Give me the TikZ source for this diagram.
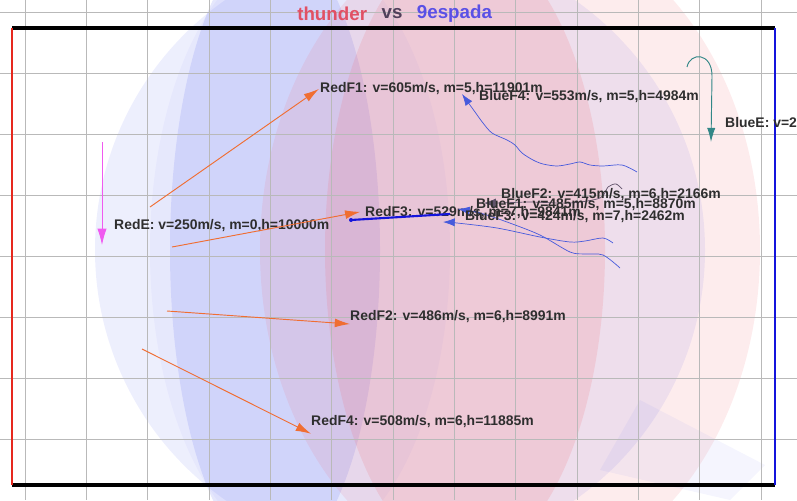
\documentclass[tikz,border=0pt]{standalone}
\usepackage{fontspec}
\setmainfont{Liberation Sans}
\usetikzlibrary{arrows.meta, positioning}

\definecolor{redarr}{RGB}{240,110,50}
\definecolor{pinkarr}{RGB}{240,90,240}
\definecolor{tealarr}{RGB}{50,135,135}
\definecolor{bluetrail}{RGB}{70,90,220}
\definecolor{redside}{RGB}{230,40,30}
\definecolor{blueside}{RGB}{20,20,220}
\definecolor{thundercol}{RGB}{225,80,100}
\definecolor{vscol}{RGB}{80,64,90}
\definecolor{espadacol}{RGB}{90,80,230}
\definecolor{blobblue}{RGB}{110,120,240}
\definecolor{blobred}{RGB}{240,100,110}

\begin{document}
\begin{tikzpicture}[
    x=0.03cm, y=-0.03cm,
    lbl/.style={anchor=west, inner sep=0pt, text=black!82, font=\bfseries\fontsize{11.9}{13}\selectfont},
    title/.style={inner sep=0pt, font=\bfseries\fontsize{16}{18}\selectfont},
    arr/.style={-{Latex[length=13pt, width=7.5pt]}, line width=0.8pt, color=redarr},
    trail/.style={line width=0.6pt, color=bluetrail},
    gridline/.style={draw=gray!55, line width=0.7pt}
]
    \useasboundingbox (0,0) rectangle (797,500);

    % Coverage blobs
    \fill[blobblue, fill opacity=0.12] (400,250) circle [radius=305];
    \fill[blobblue, fill opacity=0.18] (275,250) ellipse [x radius=105, y radius=310];
    \fill[blobblue, fill opacity=0.06] (300,250) ellipse [x radius=150, y radius=300];
    \fill[blobred, fill opacity=0.12] (510,250) ellipse [x radius=250, y radius=330];
    \fill[blobred, fill opacity=0.16] (465,250) ellipse [x radius=140, y radius=310];
    \fill[blobblue, fill opacity=0.07] (640,400) -- (765,465) -- (730,500) -- (600,470) -- cycle;

    % Grid
    \foreach \i in {0,...,12}
        \draw[gridline] ({25+61.33*\i},0) -- ({25+61.33*\i},500);
    \foreach \j in {0,...,7}
        \draw[gridline] (0,{12+61.1*\j}) -- (797,{12+61.1*\j});

    % Field border
    \draw[black, line width=2.8pt] (12,28) -- (775,28);
    \draw[black, line width=2.8pt] (12,485) -- (775,485);
    \draw[redside, line width=2.5pt] (12,28) -- (12,485);
    \draw[blueside, line width=2.5pt] (775,28) -- (775,485);

    % Title
    \node[title, text=vscol] (vs) at (392,14) {vs};
    \node[title, text=thundercol, left=12pt of vs] (thunder) {thunder};
    \node[title, text=espadacol, right=12pt of vs] (espada) {9espada};

    % Red side
    \coordinate (redF1tail) at (150,207);
    \coordinate (redEtail) at (102,142);
    \coordinate (redEtip) at (102,245);
    \coordinate (redF3tail) at (172,247);
    \coordinate (redF2tail) at (167,311);
    \coordinate (redF4tail) at (142,349);

    \node[lbl] (redF1) at (320,89) {RedF1: v=605m/s, m=5,h=11901m};
    \node[lbl] (redE) at (114,226) {RedE: v=250m/s, m=0,h=10000m};
    \node[lbl] (redF3) at (365,213) {RedF3: v=529m/s, m=7,h=9841m};
    \node[lbl] (redF2) at (350,317) {RedF2: v=486m/s, m=6,h=8991m};
    \node[lbl] (redF4) at (311,422) {RedF4: v=508m/s, m=6,h=11885m};

    \draw[arr] (redF1tail) -- ([xshift=-1pt]redF1.west);
    \draw[arr, color=pinkarr, -{Latex[length=14pt, width=8pt]}] (redEtail) -- (redEtip);
    \draw[arr] (redF3tail) -- ([shift={(-4pt,1pt)}]redF3.west);
    \draw[arr] (redF2tail) -- ([yshift=-6pt]redF2.west);
    \draw[arr] (redF4tail) -- ([yshift=-10pt]redF4.west);

    % Blue side
    \coordinate (blueF4tip) at (462,94);
    \coordinate (blueF2tip) at (484,203);
    \coordinate (blueF1tip) at (458,209);
    \coordinate (blueF3tip) at (443,222);
    \coordinate (missileA) at (351,220);
    \coordinate (missileB) at (450,214);

    \draw[trail, -{Latex[length=10pt, width=7pt]}] plot[smooth] coordinates {(637,172) (622,165) (603,166) (590,165) (580,162) (570,164) (557,166) (543,164) (533,160) (522,153) (515,145) (507,140) (492,133) (483,123) (475,112) (blueF4tip)};
    \draw[trail, color=vscol!90, -{Latex[length=10pt, width=8pt]}] plot[smooth] coordinates {(622,189) (616,184) (608,187) (600,198) (570,203) (530,202) (500,203) (blueF2tip)};
    \draw[trail, -{Latex[length=10pt, width=7pt]}] plot[smooth] coordinates {(620,268) (603,255) (585,254) (570,252) (540,235) (507,222) (480,213) (blueF1tip)};
    \draw[trail, -{Latex[length=10pt, width=7pt]}] plot[smooth] coordinates {(613,243) (603,238) (585,241) (570,242) (540,237) (497,228) (457,223) (blueF3tip)};
    \draw[blueside, line width=1.8pt] (missileA) -- (missileB);
    \fill[blueside] (missileA) circle [radius=2];

    \draw[tealarr, line width=0.8pt, -{Latex[length=12pt, width=7pt]}] (687,67) .. controls (690,52) and (712,52) .. (712,76) -- (711,142);

    \node[lbl] (blueF4) at (479,97) {BlueF4: v=553m/s, m=5,h=4984m};
    \node[lbl] (blueE) at (725,124) {BlueE: v=250m/s, m=0,h=10000m};
    \node[lbl] (blueF2) at (501,195) {BlueF2: v=415m/s, m=6,h=2166m};
    \node[lbl] (blueF1) at (476,205) {BlueF1: v=485m/s, m=5,h=8870m};
    \node[lbl] (blueF3) at (465,217) {BlueF3: v=424m/s, m=7,h=2462m};
\end{tikzpicture}
\end{document}
